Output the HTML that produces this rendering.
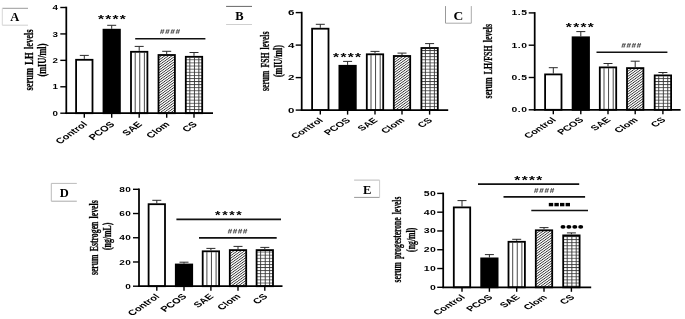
<!DOCTYPE html>
<html><head><meta charset="utf-8"><style>
html,body{margin:0;padding:0;background:#fff;}
svg{display:block;filter:grayscale(100%);}
</style></head><body>
<svg width="685" height="319" viewBox="0 0 685 319">
<rect width="685" height="319" fill="#fff"/>

<defs>
<pattern id="diag" patternUnits="userSpaceOnUse" width="1.8" height="10" patternTransform="scale(1.4,1) rotate(45)">
  <rect x="0" y="0" width="0.68" height="10" fill="#303030"/>
</pattern>
<pattern id="hgrid" patternUnits="userSpaceOnUse" width="10" height="3.1" y="0.5">
  <rect x="0" y="0" width="10" height="0.85" fill="#444"/>
</pattern>
</defs>

<line x1="84.30" y1="55.40" x2="84.30" y2="58.90" stroke="#2a2a2a" stroke-width="1.0"/>
<line x1="79.80" y1="55.40" x2="88.80" y2="55.40" stroke="#2a2a2a" stroke-width="1.0"/>
<rect x="76.10" y="59.80" width="16.40" height="53.40" fill="#fff" stroke="none"/>
<rect x="76.10" y="59.80" width="16.40" height="53.40" fill="none" stroke="#000" stroke-width="1.8"/>
<line x1="84.30" y1="113.20" x2="84.30" y2="117.70" stroke="#000" stroke-width="1.4"/>
<text transform="translate(87.90,124.70) scale(1.4,1) rotate(-45)" font-family='"Liberation Sans", sans-serif' font-size="7.9" font-weight="bold" font-style="normal" text-anchor="end" fill="#000" >Control</text>
<line x1="111.70" y1="25.30" x2="111.70" y2="28.80" stroke="#2a2a2a" stroke-width="1.0"/>
<line x1="107.20" y1="25.30" x2="116.20" y2="25.30" stroke="#2a2a2a" stroke-width="1.0"/>
<rect x="103.50" y="29.70" width="16.40" height="83.50" fill="#000" stroke="none"/>
<rect x="103.50" y="29.70" width="16.40" height="83.50" fill="none" stroke="#000" stroke-width="1.8"/>
<line x1="111.70" y1="113.20" x2="111.70" y2="117.70" stroke="#000" stroke-width="1.4"/>
<text transform="translate(115.30,124.70) scale(1.4,1) rotate(-45)" font-family='"Liberation Sans", sans-serif' font-size="7.9" font-weight="bold" font-style="normal" text-anchor="end" fill="#000" >PCOS</text>
<line x1="139.20" y1="46.40" x2="139.20" y2="50.90" stroke="#2a2a2a" stroke-width="1.0"/>
<line x1="134.70" y1="46.40" x2="143.70" y2="46.40" stroke="#2a2a2a" stroke-width="1.0"/>
<rect x="130.10" y="50.90" width="18.20" height="62.30" fill="#fff"/>
<rect x="131.00" y="51.80" width="16.40" height="61.40" fill="#fff" stroke="none"/>
<line x1="135.20" y1="52.70" x2="135.20" y2="113.20" stroke="#333" stroke-width="0.9"/>
<line x1="139.75" y1="52.70" x2="139.75" y2="113.20" stroke="#333" stroke-width="0.9"/>
<line x1="144.39" y1="52.70" x2="144.39" y2="113.20" stroke="#333" stroke-width="0.9"/>
<rect x="131.00" y="51.80" width="16.40" height="61.40" fill="none" stroke="#000" stroke-width="1.8"/>
<line x1="139.20" y1="113.20" x2="139.20" y2="117.70" stroke="#000" stroke-width="1.4"/>
<text transform="translate(142.80,124.70) scale(1.4,1) rotate(-45)" font-family='"Liberation Sans", sans-serif' font-size="7.9" font-weight="bold" font-style="normal" text-anchor="end" fill="#000" >SAE</text>
<line x1="166.70" y1="51.30" x2="166.70" y2="54.10" stroke="#2a2a2a" stroke-width="1.0"/>
<line x1="162.20" y1="51.30" x2="171.20" y2="51.30" stroke="#2a2a2a" stroke-width="1.0"/>
<rect x="157.60" y="54.10" width="18.20" height="59.10" fill="#fff"/>
<rect x="158.50" y="55.00" width="16.40" height="58.20" fill="url(#diag)" stroke="none"/>
<rect x="158.50" y="55.00" width="16.40" height="58.20" fill="none" stroke="#000" stroke-width="1.8"/>
<line x1="166.70" y1="113.20" x2="166.70" y2="117.70" stroke="#000" stroke-width="1.4"/>
<text transform="translate(170.30,124.70) scale(1.4,1) rotate(-45)" font-family='"Liberation Sans", sans-serif' font-size="7.9" font-weight="bold" font-style="normal" text-anchor="end" fill="#000" >Clom</text>
<line x1="194.00" y1="52.50" x2="194.00" y2="55.90" stroke="#2a2a2a" stroke-width="1.0"/>
<line x1="189.50" y1="52.50" x2="198.50" y2="52.50" stroke="#2a2a2a" stroke-width="1.0"/>
<rect x="184.90" y="55.90" width="18.20" height="57.30" fill="#fff"/>
<rect x="185.80" y="56.80" width="16.40" height="56.40" fill="url(#hgrid)" stroke="none"/>
<line x1="189.81" y1="57.70" x2="189.81" y2="113.20" stroke="#333" stroke-width="0.9"/>
<line x1="194.46" y1="57.70" x2="194.46" y2="113.20" stroke="#333" stroke-width="0.9"/>
<line x1="198.82" y1="57.70" x2="198.82" y2="113.20" stroke="#333" stroke-width="0.9"/>
<rect x="185.80" y="56.80" width="16.40" height="56.40" fill="none" stroke="#000" stroke-width="1.8"/>
<line x1="194.00" y1="113.20" x2="194.00" y2="117.70" stroke="#000" stroke-width="1.4"/>
<text transform="translate(197.60,124.70) scale(1.4,1) rotate(-45)" font-family='"Liberation Sans", sans-serif' font-size="7.9" font-weight="bold" font-style="normal" text-anchor="end" fill="#000" >CS</text>
<line x1="66.30" y1="6.70" x2="66.30" y2="114.05" stroke="#000" stroke-width="1.75"/>
<line x1="65.45" y1="113.20" x2="213.00" y2="113.20" stroke="#000" stroke-width="1.7"/>
<line x1="60.30" y1="113.20" x2="66.30" y2="113.20" stroke="#000" stroke-width="1.4"/>
<text transform="translate(58.00,115.80) scale(1.4,1)" font-family='"Liberation Sans", sans-serif' font-size="7.0" font-weight="bold" font-style="normal" text-anchor="end" fill="#000" letter-spacing="0">0</text>
<line x1="60.30" y1="86.78" x2="66.30" y2="86.78" stroke="#000" stroke-width="1.4"/>
<text transform="translate(58.00,89.38) scale(1.4,1)" font-family='"Liberation Sans", sans-serif' font-size="7.0" font-weight="bold" font-style="normal" text-anchor="end" fill="#000" letter-spacing="0">1</text>
<line x1="60.30" y1="60.35" x2="66.30" y2="60.35" stroke="#000" stroke-width="1.4"/>
<text transform="translate(58.00,62.95) scale(1.4,1)" font-family='"Liberation Sans", sans-serif' font-size="7.0" font-weight="bold" font-style="normal" text-anchor="end" fill="#000" letter-spacing="0">2</text>
<line x1="60.30" y1="33.92" x2="66.30" y2="33.92" stroke="#000" stroke-width="1.4"/>
<text transform="translate(58.00,36.52) scale(1.4,1)" font-family='"Liberation Sans", sans-serif' font-size="7.0" font-weight="bold" font-style="normal" text-anchor="end" fill="#000" letter-spacing="0">3</text>
<line x1="60.30" y1="7.50" x2="66.30" y2="7.50" stroke="#000" stroke-width="1.4"/>
<text transform="translate(58.00,10.10) scale(1.4,1)" font-family='"Liberation Sans", sans-serif' font-size="7.0" font-weight="bold" font-style="normal" text-anchor="end" fill="#000" letter-spacing="0">4</text>
<line x1="320.30" y1="24.30" x2="320.30" y2="27.80" stroke="#2a2a2a" stroke-width="1.0"/>
<line x1="315.80" y1="24.30" x2="324.80" y2="24.30" stroke="#2a2a2a" stroke-width="1.0"/>
<rect x="312.10" y="28.70" width="16.40" height="81.40" fill="#fff" stroke="none"/>
<rect x="312.10" y="28.70" width="16.40" height="81.40" fill="none" stroke="#000" stroke-width="1.8"/>
<line x1="320.30" y1="110.10" x2="320.30" y2="114.60" stroke="#000" stroke-width="1.4"/>
<text transform="translate(323.70,120.70) scale(1.53,1) rotate(-45)" font-family='"Liberation Sans", sans-serif' font-size="7.33" font-weight="bold" font-style="normal" text-anchor="end" fill="#000" >Control</text>
<line x1="347.60" y1="61.40" x2="347.60" y2="64.90" stroke="#2a2a2a" stroke-width="1.0"/>
<line x1="343.10" y1="61.40" x2="352.10" y2="61.40" stroke="#2a2a2a" stroke-width="1.0"/>
<rect x="339.40" y="65.80" width="16.40" height="44.30" fill="#000" stroke="none"/>
<rect x="339.40" y="65.80" width="16.40" height="44.30" fill="none" stroke="#000" stroke-width="1.8"/>
<line x1="347.60" y1="110.10" x2="347.60" y2="114.60" stroke="#000" stroke-width="1.4"/>
<text transform="translate(351.00,120.70) scale(1.53,1) rotate(-45)" font-family='"Liberation Sans", sans-serif' font-size="7.33" font-weight="bold" font-style="normal" text-anchor="end" fill="#000" >PCOS</text>
<line x1="375.00" y1="51.40" x2="375.00" y2="53.40" stroke="#2a2a2a" stroke-width="1.0"/>
<line x1="370.50" y1="51.40" x2="379.50" y2="51.40" stroke="#2a2a2a" stroke-width="1.0"/>
<rect x="365.90" y="53.40" width="18.20" height="56.70" fill="#fff"/>
<rect x="366.80" y="54.30" width="16.40" height="55.80" fill="#fff" stroke="none"/>
<line x1="371.00" y1="55.20" x2="371.00" y2="110.10" stroke="#333" stroke-width="0.9"/>
<line x1="375.55" y1="55.20" x2="375.55" y2="110.10" stroke="#333" stroke-width="0.9"/>
<line x1="380.19" y1="55.20" x2="380.19" y2="110.10" stroke="#333" stroke-width="0.9"/>
<rect x="366.80" y="54.30" width="16.40" height="55.80" fill="none" stroke="#000" stroke-width="1.8"/>
<line x1="375.00" y1="110.10" x2="375.00" y2="114.60" stroke="#000" stroke-width="1.4"/>
<text transform="translate(378.40,120.70) scale(1.53,1) rotate(-45)" font-family='"Liberation Sans", sans-serif' font-size="7.33" font-weight="bold" font-style="normal" text-anchor="end" fill="#000" >SAE</text>
<line x1="402.00" y1="53.10" x2="402.00" y2="55.10" stroke="#2a2a2a" stroke-width="1.0"/>
<line x1="397.50" y1="53.10" x2="406.50" y2="53.10" stroke="#2a2a2a" stroke-width="1.0"/>
<rect x="392.90" y="55.10" width="18.20" height="55.00" fill="#fff"/>
<rect x="393.80" y="56.00" width="16.40" height="54.10" fill="url(#diag)" stroke="none"/>
<rect x="393.80" y="56.00" width="16.40" height="54.10" fill="none" stroke="#000" stroke-width="1.8"/>
<line x1="402.00" y1="110.10" x2="402.00" y2="114.60" stroke="#000" stroke-width="1.4"/>
<text transform="translate(405.40,120.70) scale(1.53,1) rotate(-45)" font-family='"Liberation Sans", sans-serif' font-size="7.33" font-weight="bold" font-style="normal" text-anchor="end" fill="#000" >Clom</text>
<line x1="429.60" y1="43.60" x2="429.60" y2="47.10" stroke="#2a2a2a" stroke-width="1.0"/>
<line x1="425.10" y1="43.60" x2="434.10" y2="43.60" stroke="#2a2a2a" stroke-width="1.0"/>
<rect x="420.50" y="47.10" width="18.20" height="63.00" fill="#fff"/>
<rect x="421.40" y="48.00" width="16.40" height="62.10" fill="url(#hgrid)" stroke="none"/>
<line x1="425.41" y1="48.90" x2="425.41" y2="110.10" stroke="#333" stroke-width="0.9"/>
<line x1="430.06" y1="48.90" x2="430.06" y2="110.10" stroke="#333" stroke-width="0.9"/>
<line x1="434.42" y1="48.90" x2="434.42" y2="110.10" stroke="#333" stroke-width="0.9"/>
<rect x="421.40" y="48.00" width="16.40" height="62.10" fill="none" stroke="#000" stroke-width="1.8"/>
<line x1="429.60" y1="110.10" x2="429.60" y2="114.60" stroke="#000" stroke-width="1.4"/>
<text transform="translate(433.00,120.70) scale(1.53,1) rotate(-45)" font-family='"Liberation Sans", sans-serif' font-size="7.33" font-weight="bold" font-style="normal" text-anchor="end" fill="#000" >CS</text>
<line x1="301.70" y1="11.80" x2="301.70" y2="110.95" stroke="#000" stroke-width="1.75"/>
<line x1="300.85" y1="110.10" x2="448.20" y2="110.10" stroke="#000" stroke-width="1.7"/>
<line x1="295.70" y1="110.10" x2="301.70" y2="110.10" stroke="#000" stroke-width="1.4"/>
<text transform="translate(294.80,112.70) scale(1.6,1)" font-family='"Liberation Sans", sans-serif' font-size="7.2" font-weight="bold" font-style="normal" text-anchor="end" fill="#000" letter-spacing="0.3">0</text>
<line x1="295.70" y1="77.60" x2="301.70" y2="77.60" stroke="#000" stroke-width="1.4"/>
<text transform="translate(294.80,80.20) scale(1.6,1)" font-family='"Liberation Sans", sans-serif' font-size="7.2" font-weight="bold" font-style="normal" text-anchor="end" fill="#000" letter-spacing="0.3">2</text>
<line x1="295.70" y1="45.10" x2="301.70" y2="45.10" stroke="#000" stroke-width="1.4"/>
<text transform="translate(294.80,47.70) scale(1.6,1)" font-family='"Liberation Sans", sans-serif' font-size="7.2" font-weight="bold" font-style="normal" text-anchor="end" fill="#000" letter-spacing="0.3">4</text>
<line x1="295.70" y1="12.60" x2="301.70" y2="12.60" stroke="#000" stroke-width="1.4"/>
<text transform="translate(294.80,15.20) scale(1.6,1)" font-family='"Liberation Sans", sans-serif' font-size="7.2" font-weight="bold" font-style="normal" text-anchor="end" fill="#000" letter-spacing="0.3">6</text>
<line x1="553.30" y1="67.70" x2="553.30" y2="73.50" stroke="#2a2a2a" stroke-width="1.0"/>
<line x1="548.80" y1="67.70" x2="557.80" y2="67.70" stroke="#2a2a2a" stroke-width="1.0"/>
<rect x="545.10" y="74.40" width="16.40" height="35.40" fill="#fff" stroke="none"/>
<rect x="545.10" y="74.40" width="16.40" height="35.40" fill="none" stroke="#000" stroke-width="1.8"/>
<line x1="553.30" y1="109.80" x2="553.30" y2="114.30" stroke="#000" stroke-width="1.4"/>
<text transform="translate(556.70,120.40) scale(1.53,1) rotate(-45)" font-family='"Liberation Sans", sans-serif' font-size="7.33" font-weight="bold" font-style="normal" text-anchor="end" fill="#000" >Control</text>
<line x1="580.80" y1="31.60" x2="580.80" y2="36.40" stroke="#2a2a2a" stroke-width="1.0"/>
<line x1="576.30" y1="31.60" x2="585.30" y2="31.60" stroke="#2a2a2a" stroke-width="1.0"/>
<rect x="572.60" y="37.30" width="16.40" height="72.50" fill="#000" stroke="none"/>
<rect x="572.60" y="37.30" width="16.40" height="72.50" fill="none" stroke="#000" stroke-width="1.8"/>
<line x1="580.80" y1="109.80" x2="580.80" y2="114.30" stroke="#000" stroke-width="1.4"/>
<text transform="translate(584.20,120.40) scale(1.53,1) rotate(-45)" font-family='"Liberation Sans", sans-serif' font-size="7.33" font-weight="bold" font-style="normal" text-anchor="end" fill="#000" >PCOS</text>
<line x1="608.00" y1="63.50" x2="608.00" y2="66.50" stroke="#2a2a2a" stroke-width="1.0"/>
<line x1="603.50" y1="63.50" x2="612.50" y2="63.50" stroke="#2a2a2a" stroke-width="1.0"/>
<rect x="598.90" y="66.50" width="18.20" height="43.30" fill="#fff"/>
<rect x="599.80" y="67.40" width="16.40" height="42.40" fill="#fff" stroke="none"/>
<line x1="604.00" y1="68.30" x2="604.00" y2="109.80" stroke="#333" stroke-width="0.9"/>
<line x1="608.55" y1="68.30" x2="608.55" y2="109.80" stroke="#333" stroke-width="0.9"/>
<line x1="613.19" y1="68.30" x2="613.19" y2="109.80" stroke="#333" stroke-width="0.9"/>
<rect x="599.80" y="67.40" width="16.40" height="42.40" fill="none" stroke="#000" stroke-width="1.8"/>
<line x1="608.00" y1="109.80" x2="608.00" y2="114.30" stroke="#000" stroke-width="1.4"/>
<text transform="translate(611.40,120.40) scale(1.53,1) rotate(-45)" font-family='"Liberation Sans", sans-serif' font-size="7.33" font-weight="bold" font-style="normal" text-anchor="end" fill="#000" >SAE</text>
<line x1="635.20" y1="61.20" x2="635.20" y2="67.20" stroke="#2a2a2a" stroke-width="1.0"/>
<line x1="630.70" y1="61.20" x2="639.70" y2="61.20" stroke="#2a2a2a" stroke-width="1.0"/>
<rect x="626.10" y="67.20" width="18.20" height="42.60" fill="#fff"/>
<rect x="627.00" y="68.10" width="16.40" height="41.70" fill="url(#diag)" stroke="none"/>
<rect x="627.00" y="68.10" width="16.40" height="41.70" fill="none" stroke="#000" stroke-width="1.8"/>
<line x1="635.20" y1="109.80" x2="635.20" y2="114.30" stroke="#000" stroke-width="1.4"/>
<text transform="translate(638.60,120.40) scale(1.53,1) rotate(-45)" font-family='"Liberation Sans", sans-serif' font-size="7.33" font-weight="bold" font-style="normal" text-anchor="end" fill="#000" >Clom</text>
<line x1="662.90" y1="72.50" x2="662.90" y2="74.50" stroke="#2a2a2a" stroke-width="1.0"/>
<line x1="658.40" y1="72.50" x2="667.40" y2="72.50" stroke="#2a2a2a" stroke-width="1.0"/>
<rect x="653.80" y="74.50" width="18.20" height="35.30" fill="#fff"/>
<rect x="654.70" y="75.40" width="16.40" height="34.40" fill="url(#hgrid)" stroke="none"/>
<line x1="658.71" y1="76.30" x2="658.71" y2="109.80" stroke="#333" stroke-width="0.9"/>
<line x1="663.35" y1="76.30" x2="663.35" y2="109.80" stroke="#333" stroke-width="0.9"/>
<line x1="667.72" y1="76.30" x2="667.72" y2="109.80" stroke="#333" stroke-width="0.9"/>
<rect x="654.70" y="75.40" width="16.40" height="34.40" fill="none" stroke="#000" stroke-width="1.8"/>
<line x1="662.90" y1="109.80" x2="662.90" y2="114.30" stroke="#000" stroke-width="1.4"/>
<text transform="translate(666.30,120.40) scale(1.53,1) rotate(-45)" font-family='"Liberation Sans", sans-serif' font-size="7.33" font-weight="bold" font-style="normal" text-anchor="end" fill="#000" >CS</text>
<line x1="534.70" y1="12.10" x2="534.70" y2="110.65" stroke="#000" stroke-width="1.75"/>
<line x1="533.85" y1="109.80" x2="680.60" y2="109.80" stroke="#000" stroke-width="1.7"/>
<line x1="528.70" y1="109.80" x2="534.70" y2="109.80" stroke="#000" stroke-width="1.4"/>
<text transform="translate(527.50,112.30) scale(1.4,1)" font-family='"Liberation Sans", sans-serif' font-size="7.4" font-weight="bold" font-style="normal" text-anchor="end" fill="#000" letter-spacing="0.35">0.0</text>
<line x1="528.70" y1="77.50" x2="534.70" y2="77.50" stroke="#000" stroke-width="1.4"/>
<text transform="translate(527.50,80.00) scale(1.4,1)" font-family='"Liberation Sans", sans-serif' font-size="7.4" font-weight="bold" font-style="normal" text-anchor="end" fill="#000" letter-spacing="0.35">0.5</text>
<line x1="528.70" y1="45.20" x2="534.70" y2="45.20" stroke="#000" stroke-width="1.4"/>
<text transform="translate(527.50,47.70) scale(1.4,1)" font-family='"Liberation Sans", sans-serif' font-size="7.4" font-weight="bold" font-style="normal" text-anchor="end" fill="#000" letter-spacing="0.35">1.0</text>
<line x1="528.70" y1="12.90" x2="534.70" y2="12.90" stroke="#000" stroke-width="1.4"/>
<text transform="translate(527.50,15.40) scale(1.4,1)" font-family='"Liberation Sans", sans-serif' font-size="7.4" font-weight="bold" font-style="normal" text-anchor="end" fill="#000" letter-spacing="0.35">1.5</text>
<line x1="156.80" y1="200.30" x2="156.80" y2="203.30" stroke="#2a2a2a" stroke-width="1.0"/>
<line x1="152.30" y1="200.30" x2="161.30" y2="200.30" stroke="#2a2a2a" stroke-width="1.0"/>
<rect x="148.60" y="204.20" width="16.40" height="82.00" fill="#fff" stroke="none"/>
<rect x="148.60" y="204.20" width="16.40" height="82.00" fill="none" stroke="#000" stroke-width="1.8"/>
<line x1="156.80" y1="286.20" x2="156.80" y2="290.70" stroke="#000" stroke-width="1.4"/>
<text transform="translate(160.10,297.00) scale(1.45,1) rotate(-45)" font-family='"Liberation Sans", sans-serif' font-size="7.65" font-weight="bold" font-style="normal" text-anchor="end" fill="#000" >Control</text>
<line x1="184.00" y1="262.20" x2="184.00" y2="263.60" stroke="#2a2a2a" stroke-width="1.0"/>
<line x1="179.50" y1="262.20" x2="188.50" y2="262.20" stroke="#2a2a2a" stroke-width="1.0"/>
<rect x="175.80" y="264.50" width="16.40" height="21.70" fill="#000" stroke="none"/>
<rect x="175.80" y="264.50" width="16.40" height="21.70" fill="none" stroke="#000" stroke-width="1.8"/>
<line x1="184.00" y1="286.20" x2="184.00" y2="290.70" stroke="#000" stroke-width="1.4"/>
<text transform="translate(187.30,297.00) scale(1.45,1) rotate(-45)" font-family='"Liberation Sans", sans-serif' font-size="7.65" font-weight="bold" font-style="normal" text-anchor="end" fill="#000" >PCOS</text>
<line x1="210.90" y1="248.40" x2="210.90" y2="250.40" stroke="#2a2a2a" stroke-width="1.0"/>
<line x1="206.40" y1="248.40" x2="215.40" y2="248.40" stroke="#2a2a2a" stroke-width="1.0"/>
<rect x="201.80" y="250.40" width="18.20" height="35.80" fill="#fff"/>
<rect x="202.70" y="251.30" width="16.40" height="34.90" fill="#fff" stroke="none"/>
<line x1="206.90" y1="252.20" x2="206.90" y2="286.20" stroke="#333" stroke-width="0.9"/>
<line x1="211.45" y1="252.20" x2="211.45" y2="286.20" stroke="#333" stroke-width="0.9"/>
<line x1="216.09" y1="252.20" x2="216.09" y2="286.20" stroke="#333" stroke-width="0.9"/>
<rect x="202.70" y="251.30" width="16.40" height="34.90" fill="none" stroke="#000" stroke-width="1.8"/>
<line x1="210.90" y1="286.20" x2="210.90" y2="290.70" stroke="#000" stroke-width="1.4"/>
<text transform="translate(214.20,297.00) scale(1.45,1) rotate(-45)" font-family='"Liberation Sans", sans-serif' font-size="7.65" font-weight="bold" font-style="normal" text-anchor="end" fill="#000" >SAE</text>
<line x1="238.00" y1="246.40" x2="238.00" y2="249.20" stroke="#2a2a2a" stroke-width="1.0"/>
<line x1="233.50" y1="246.40" x2="242.50" y2="246.40" stroke="#2a2a2a" stroke-width="1.0"/>
<rect x="228.90" y="249.20" width="18.20" height="37.00" fill="#fff"/>
<rect x="229.80" y="250.10" width="16.40" height="36.10" fill="url(#diag)" stroke="none"/>
<rect x="229.80" y="250.10" width="16.40" height="36.10" fill="none" stroke="#000" stroke-width="1.8"/>
<line x1="238.00" y1="286.20" x2="238.00" y2="290.70" stroke="#000" stroke-width="1.4"/>
<text transform="translate(241.30,297.00) scale(1.45,1) rotate(-45)" font-family='"Liberation Sans", sans-serif' font-size="7.65" font-weight="bold" font-style="normal" text-anchor="end" fill="#000" >Clom</text>
<line x1="264.80" y1="247.40" x2="264.80" y2="249.20" stroke="#2a2a2a" stroke-width="1.0"/>
<line x1="260.30" y1="247.40" x2="269.30" y2="247.40" stroke="#2a2a2a" stroke-width="1.0"/>
<rect x="255.70" y="249.20" width="18.20" height="37.00" fill="#fff"/>
<rect x="256.60" y="250.10" width="16.40" height="36.10" fill="url(#hgrid)" stroke="none"/>
<line x1="260.61" y1="251.00" x2="260.61" y2="286.20" stroke="#333" stroke-width="0.9"/>
<line x1="265.25" y1="251.00" x2="265.25" y2="286.20" stroke="#333" stroke-width="0.9"/>
<line x1="269.62" y1="251.00" x2="269.62" y2="286.20" stroke="#333" stroke-width="0.9"/>
<rect x="256.60" y="250.10" width="16.40" height="36.10" fill="none" stroke="#000" stroke-width="1.8"/>
<line x1="264.80" y1="286.20" x2="264.80" y2="290.70" stroke="#000" stroke-width="1.4"/>
<text transform="translate(268.10,297.00) scale(1.45,1) rotate(-45)" font-family='"Liberation Sans", sans-serif' font-size="7.65" font-weight="bold" font-style="normal" text-anchor="end" fill="#000" >CS</text>
<line x1="139.00" y1="188.50" x2="139.00" y2="287.05" stroke="#000" stroke-width="1.75"/>
<line x1="138.15" y1="286.20" x2="282.50" y2="286.20" stroke="#000" stroke-width="1.7"/>
<line x1="133.00" y1="286.20" x2="139.00" y2="286.20" stroke="#000" stroke-width="1.4"/>
<text transform="translate(131.50,288.80) scale(1.4,1)" font-family='"Liberation Sans", sans-serif' font-size="7.2" font-weight="bold" font-style="normal" text-anchor="end" fill="#000" letter-spacing="0.4">0</text>
<line x1="133.00" y1="261.98" x2="139.00" y2="261.98" stroke="#000" stroke-width="1.4"/>
<text transform="translate(131.50,264.58) scale(1.4,1)" font-family='"Liberation Sans", sans-serif' font-size="7.2" font-weight="bold" font-style="normal" text-anchor="end" fill="#000" letter-spacing="0.4">20</text>
<line x1="133.00" y1="237.75" x2="139.00" y2="237.75" stroke="#000" stroke-width="1.4"/>
<text transform="translate(131.50,240.35) scale(1.4,1)" font-family='"Liberation Sans", sans-serif' font-size="7.2" font-weight="bold" font-style="normal" text-anchor="end" fill="#000" letter-spacing="0.4">40</text>
<line x1="133.00" y1="213.53" x2="139.00" y2="213.53" stroke="#000" stroke-width="1.4"/>
<text transform="translate(131.50,216.12) scale(1.4,1)" font-family='"Liberation Sans", sans-serif' font-size="7.2" font-weight="bold" font-style="normal" text-anchor="end" fill="#000" letter-spacing="0.4">60</text>
<line x1="133.00" y1="189.30" x2="139.00" y2="189.30" stroke="#000" stroke-width="1.4"/>
<text transform="translate(131.50,191.90) scale(1.4,1)" font-family='"Liberation Sans", sans-serif' font-size="7.2" font-weight="bold" font-style="normal" text-anchor="end" fill="#000" letter-spacing="0.4">80</text>
<line x1="462.00" y1="200.60" x2="462.00" y2="206.50" stroke="#2a2a2a" stroke-width="1.0"/>
<line x1="457.50" y1="200.60" x2="466.50" y2="200.60" stroke="#2a2a2a" stroke-width="1.0"/>
<rect x="453.80" y="207.40" width="16.40" height="79.90" fill="#fff" stroke="none"/>
<rect x="453.80" y="207.40" width="16.40" height="79.90" fill="none" stroke="#000" stroke-width="1.8"/>
<line x1="462.00" y1="287.30" x2="462.00" y2="291.80" stroke="#000" stroke-width="1.4"/>
<text transform="translate(465.80,297.70) scale(1.585,1) rotate(-45)" font-family='"Liberation Sans", sans-serif' font-size="7.07" font-weight="bold" font-style="normal" text-anchor="end" fill="#000" >Control</text>
<line x1="489.40" y1="254.60" x2="489.40" y2="257.50" stroke="#2a2a2a" stroke-width="1.0"/>
<line x1="484.90" y1="254.60" x2="493.90" y2="254.60" stroke="#2a2a2a" stroke-width="1.0"/>
<rect x="481.20" y="258.40" width="16.40" height="28.90" fill="#000" stroke="none"/>
<rect x="481.20" y="258.40" width="16.40" height="28.90" fill="none" stroke="#000" stroke-width="1.8"/>
<line x1="489.40" y1="287.30" x2="489.40" y2="291.80" stroke="#000" stroke-width="1.4"/>
<text transform="translate(493.20,297.70) scale(1.585,1) rotate(-45)" font-family='"Liberation Sans", sans-serif' font-size="7.07" font-weight="bold" font-style="normal" text-anchor="end" fill="#000" >PCOS</text>
<line x1="516.70" y1="239.30" x2="516.70" y2="240.90" stroke="#2a2a2a" stroke-width="1.0"/>
<line x1="512.20" y1="239.30" x2="521.20" y2="239.30" stroke="#2a2a2a" stroke-width="1.0"/>
<rect x="507.60" y="240.90" width="18.20" height="46.40" fill="#fff"/>
<rect x="508.50" y="241.80" width="16.40" height="45.50" fill="#fff" stroke="none"/>
<line x1="512.70" y1="242.70" x2="512.70" y2="287.30" stroke="#333" stroke-width="0.9"/>
<line x1="517.25" y1="242.70" x2="517.25" y2="287.30" stroke="#333" stroke-width="0.9"/>
<line x1="521.89" y1="242.70" x2="521.89" y2="287.30" stroke="#333" stroke-width="0.9"/>
<rect x="508.50" y="241.80" width="16.40" height="45.50" fill="none" stroke="#000" stroke-width="1.8"/>
<line x1="516.70" y1="287.30" x2="516.70" y2="291.80" stroke="#000" stroke-width="1.4"/>
<text transform="translate(520.50,297.70) scale(1.585,1) rotate(-45)" font-family='"Liberation Sans", sans-serif' font-size="7.07" font-weight="bold" font-style="normal" text-anchor="end" fill="#000" >SAE</text>
<line x1="544.00" y1="227.60" x2="544.00" y2="229.40" stroke="#2a2a2a" stroke-width="1.0"/>
<line x1="539.50" y1="227.60" x2="548.50" y2="227.60" stroke="#2a2a2a" stroke-width="1.0"/>
<rect x="534.90" y="229.40" width="18.20" height="57.90" fill="#fff"/>
<rect x="535.80" y="230.30" width="16.40" height="57.00" fill="url(#diag)" stroke="none"/>
<rect x="535.80" y="230.30" width="16.40" height="57.00" fill="none" stroke="#000" stroke-width="1.8"/>
<line x1="544.00" y1="287.30" x2="544.00" y2="291.80" stroke="#000" stroke-width="1.4"/>
<text transform="translate(547.80,297.70) scale(1.585,1) rotate(-45)" font-family='"Liberation Sans", sans-serif' font-size="7.07" font-weight="bold" font-style="normal" text-anchor="end" fill="#000" >Clom</text>
<line x1="571.40" y1="232.90" x2="571.40" y2="234.50" stroke="#2a2a2a" stroke-width="1.0"/>
<line x1="566.90" y1="232.90" x2="575.90" y2="232.90" stroke="#2a2a2a" stroke-width="1.0"/>
<rect x="562.30" y="234.50" width="18.20" height="52.80" fill="#fff"/>
<rect x="563.20" y="235.40" width="16.40" height="51.90" fill="url(#hgrid)" stroke="none"/>
<line x1="567.21" y1="236.30" x2="567.21" y2="287.30" stroke="#333" stroke-width="0.9"/>
<line x1="571.85" y1="236.30" x2="571.85" y2="287.30" stroke="#333" stroke-width="0.9"/>
<line x1="576.22" y1="236.30" x2="576.22" y2="287.30" stroke="#333" stroke-width="0.9"/>
<rect x="563.20" y="235.40" width="16.40" height="51.90" fill="none" stroke="#000" stroke-width="1.8"/>
<line x1="571.40" y1="287.30" x2="571.40" y2="291.80" stroke="#000" stroke-width="1.4"/>
<text transform="translate(575.20,297.70) scale(1.585,1) rotate(-45)" font-family='"Liberation Sans", sans-serif' font-size="7.07" font-weight="bold" font-style="normal" text-anchor="end" fill="#000" >CS</text>
<line x1="443.20" y1="192.60" x2="443.20" y2="288.15" stroke="#000" stroke-width="1.75"/>
<line x1="442.35" y1="287.30" x2="591.20" y2="287.30" stroke="#000" stroke-width="1.7"/>
<line x1="437.20" y1="287.30" x2="443.20" y2="287.30" stroke="#000" stroke-width="1.4"/>
<text transform="translate(436.50,289.80) scale(1.4,1)" font-family='"Liberation Sans", sans-serif' font-size="7.5" font-weight="bold" font-style="normal" text-anchor="end" fill="#000" letter-spacing="0.4">0</text>
<line x1="437.20" y1="268.52" x2="443.20" y2="268.52" stroke="#000" stroke-width="1.4"/>
<text transform="translate(436.50,271.02) scale(1.4,1)" font-family='"Liberation Sans", sans-serif' font-size="7.5" font-weight="bold" font-style="normal" text-anchor="end" fill="#000" letter-spacing="0.4">10</text>
<line x1="437.20" y1="249.74" x2="443.20" y2="249.74" stroke="#000" stroke-width="1.4"/>
<text transform="translate(436.50,252.24) scale(1.4,1)" font-family='"Liberation Sans", sans-serif' font-size="7.5" font-weight="bold" font-style="normal" text-anchor="end" fill="#000" letter-spacing="0.4">20</text>
<line x1="437.20" y1="230.96" x2="443.20" y2="230.96" stroke="#000" stroke-width="1.4"/>
<text transform="translate(436.50,233.46) scale(1.4,1)" font-family='"Liberation Sans", sans-serif' font-size="7.5" font-weight="bold" font-style="normal" text-anchor="end" fill="#000" letter-spacing="0.4">30</text>
<line x1="437.20" y1="212.18" x2="443.20" y2="212.18" stroke="#000" stroke-width="1.4"/>
<text transform="translate(436.50,214.68) scale(1.4,1)" font-family='"Liberation Sans", sans-serif' font-size="7.5" font-weight="bold" font-style="normal" text-anchor="end" fill="#000" letter-spacing="0.4">40</text>
<line x1="437.20" y1="193.40" x2="443.20" y2="193.40" stroke="#000" stroke-width="1.4"/>
<text transform="translate(436.50,195.90) scale(1.4,1)" font-family='"Liberation Sans", sans-serif' font-size="7.5" font-weight="bold" font-style="normal" text-anchor="end" fill="#000" letter-spacing="0.4">50</text>
<text transform="translate(112.50,22.80) scale(1.4,1)" font-family='"Liberation Sans", sans-serif' font-size="11" font-weight="bold" font-style="normal" text-anchor="middle" fill="#000" letter-spacing="0.94">****</text>
<line x1="135.20" y1="38.70" x2="205.40" y2="38.70" stroke="#111" stroke-width="1.6"/>
<line x1="160.60" y1="33.80" x2="161.90" y2="29.20" stroke="#444" stroke-width="0.8"/>
<line x1="162.50" y1="33.80" x2="163.80" y2="29.20" stroke="#444" stroke-width="0.8"/>
<line x1="160.70" y1="30.72" x2="164.40" y2="30.72" stroke="#555" stroke-width="0.75"/>
<line x1="160.10" y1="32.28" x2="163.80" y2="32.28" stroke="#5a5a5a" stroke-width="0.7"/>
<line x1="165.80" y1="33.80" x2="167.10" y2="29.20" stroke="#444" stroke-width="0.8"/>
<line x1="167.70" y1="33.80" x2="169.00" y2="29.20" stroke="#444" stroke-width="0.8"/>
<line x1="165.90" y1="30.72" x2="169.60" y2="30.72" stroke="#555" stroke-width="0.75"/>
<line x1="165.30" y1="32.28" x2="169.00" y2="32.28" stroke="#5a5a5a" stroke-width="0.7"/>
<line x1="171.00" y1="33.80" x2="172.30" y2="29.20" stroke="#444" stroke-width="0.8"/>
<line x1="172.90" y1="33.80" x2="174.20" y2="29.20" stroke="#444" stroke-width="0.8"/>
<line x1="171.10" y1="30.72" x2="174.80" y2="30.72" stroke="#555" stroke-width="0.75"/>
<line x1="170.50" y1="32.28" x2="174.20" y2="32.28" stroke="#5a5a5a" stroke-width="0.7"/>
<line x1="176.20" y1="33.80" x2="177.50" y2="29.20" stroke="#444" stroke-width="0.8"/>
<line x1="178.10" y1="33.80" x2="179.40" y2="29.20" stroke="#444" stroke-width="0.8"/>
<line x1="176.30" y1="30.72" x2="180.00" y2="30.72" stroke="#555" stroke-width="0.75"/>
<line x1="175.70" y1="32.28" x2="179.40" y2="32.28" stroke="#5a5a5a" stroke-width="0.7"/>
<text transform="translate(347.70,60.90) scale(1.4,1)" font-family='"Liberation Sans", sans-serif' font-size="11" font-weight="bold" font-style="normal" text-anchor="middle" fill="#000" letter-spacing="0.94">****</text>
<text transform="translate(580.45,31.30) scale(1.4,1)" font-family='"Liberation Sans", sans-serif' font-size="11" font-weight="bold" font-style="normal" text-anchor="middle" fill="#000" letter-spacing="0.94">****</text>
<line x1="596.50" y1="52.20" x2="667.40" y2="52.20" stroke="#111" stroke-width="1.6"/>
<line x1="622.00" y1="47.70" x2="623.30" y2="43.00" stroke="#444" stroke-width="0.8"/>
<line x1="623.90" y1="47.70" x2="625.20" y2="43.00" stroke="#444" stroke-width="0.8"/>
<line x1="622.10" y1="44.55" x2="625.80" y2="44.55" stroke="#555" stroke-width="0.75"/>
<line x1="621.50" y1="46.15" x2="625.20" y2="46.15" stroke="#5a5a5a" stroke-width="0.7"/>
<line x1="627.10" y1="47.70" x2="628.40" y2="43.00" stroke="#444" stroke-width="0.8"/>
<line x1="629.00" y1="47.70" x2="630.30" y2="43.00" stroke="#444" stroke-width="0.8"/>
<line x1="627.20" y1="44.55" x2="630.90" y2="44.55" stroke="#555" stroke-width="0.75"/>
<line x1="626.60" y1="46.15" x2="630.30" y2="46.15" stroke="#5a5a5a" stroke-width="0.7"/>
<line x1="632.20" y1="47.70" x2="633.50" y2="43.00" stroke="#444" stroke-width="0.8"/>
<line x1="634.10" y1="47.70" x2="635.40" y2="43.00" stroke="#444" stroke-width="0.8"/>
<line x1="632.30" y1="44.55" x2="636.00" y2="44.55" stroke="#555" stroke-width="0.75"/>
<line x1="631.70" y1="46.15" x2="635.40" y2="46.15" stroke="#5a5a5a" stroke-width="0.7"/>
<line x1="637.30" y1="47.70" x2="638.60" y2="43.00" stroke="#444" stroke-width="0.8"/>
<line x1="639.20" y1="47.70" x2="640.50" y2="43.00" stroke="#444" stroke-width="0.8"/>
<line x1="637.40" y1="44.55" x2="641.10" y2="44.55" stroke="#555" stroke-width="0.75"/>
<line x1="636.80" y1="46.15" x2="640.50" y2="46.15" stroke="#5a5a5a" stroke-width="0.7"/>
<text transform="translate(229.23,219.39) scale(1.4,1)" font-family='"Liberation Sans", sans-serif' font-size="10" font-weight="bold" font-style="normal" text-anchor="middle" fill="#000" letter-spacing="1.18">****</text>
<line x1="176.40" y1="219.40" x2="281.00" y2="219.40" stroke="#111" stroke-width="1.6"/>
<line x1="228.30" y1="233.50" x2="229.60" y2="228.90" stroke="#444" stroke-width="0.8"/>
<line x1="230.20" y1="233.50" x2="231.50" y2="228.90" stroke="#444" stroke-width="0.8"/>
<line x1="228.40" y1="230.42" x2="232.10" y2="230.42" stroke="#555" stroke-width="0.75"/>
<line x1="227.80" y1="231.98" x2="231.50" y2="231.98" stroke="#5a5a5a" stroke-width="0.7"/>
<line x1="233.37" y1="233.50" x2="234.67" y2="228.90" stroke="#444" stroke-width="0.8"/>
<line x1="235.27" y1="233.50" x2="236.57" y2="228.90" stroke="#444" stroke-width="0.8"/>
<line x1="233.47" y1="230.42" x2="237.17" y2="230.42" stroke="#555" stroke-width="0.75"/>
<line x1="232.87" y1="231.98" x2="236.57" y2="231.98" stroke="#5a5a5a" stroke-width="0.7"/>
<line x1="238.43" y1="233.50" x2="239.73" y2="228.90" stroke="#444" stroke-width="0.8"/>
<line x1="240.33" y1="233.50" x2="241.63" y2="228.90" stroke="#444" stroke-width="0.8"/>
<line x1="238.53" y1="230.42" x2="242.23" y2="230.42" stroke="#555" stroke-width="0.75"/>
<line x1="237.93" y1="231.98" x2="241.63" y2="231.98" stroke="#5a5a5a" stroke-width="0.7"/>
<line x1="243.50" y1="233.50" x2="244.80" y2="228.90" stroke="#444" stroke-width="0.8"/>
<line x1="245.40" y1="233.50" x2="246.70" y2="228.90" stroke="#444" stroke-width="0.8"/>
<line x1="243.60" y1="230.42" x2="247.30" y2="230.42" stroke="#555" stroke-width="0.75"/>
<line x1="243.00" y1="231.98" x2="246.70" y2="231.98" stroke="#5a5a5a" stroke-width="0.7"/>
<line x1="199.00" y1="237.90" x2="276.70" y2="237.90" stroke="#111" stroke-width="1.6"/>
<text transform="translate(528.95,184.30) scale(1.4,1)" font-family='"Liberation Sans", sans-serif' font-size="11" font-weight="bold" font-style="normal" text-anchor="middle" fill="#000" letter-spacing="0.94">****</text>
<line x1="478.00" y1="184.10" x2="579.20" y2="184.10" stroke="#111" stroke-width="1.6"/>
<line x1="534.60" y1="192.80" x2="535.90" y2="188.10" stroke="#444" stroke-width="0.8"/>
<line x1="536.50" y1="192.80" x2="537.80" y2="188.10" stroke="#444" stroke-width="0.8"/>
<line x1="534.70" y1="189.65" x2="538.40" y2="189.65" stroke="#555" stroke-width="0.75"/>
<line x1="534.10" y1="191.25" x2="537.80" y2="191.25" stroke="#5a5a5a" stroke-width="0.7"/>
<line x1="539.87" y1="192.80" x2="541.17" y2="188.10" stroke="#444" stroke-width="0.8"/>
<line x1="541.77" y1="192.80" x2="543.07" y2="188.10" stroke="#444" stroke-width="0.8"/>
<line x1="539.97" y1="189.65" x2="543.67" y2="189.65" stroke="#555" stroke-width="0.75"/>
<line x1="539.37" y1="191.25" x2="543.07" y2="191.25" stroke="#5a5a5a" stroke-width="0.7"/>
<line x1="545.13" y1="192.80" x2="546.43" y2="188.10" stroke="#444" stroke-width="0.8"/>
<line x1="547.03" y1="192.80" x2="548.33" y2="188.10" stroke="#444" stroke-width="0.8"/>
<line x1="545.23" y1="189.65" x2="548.93" y2="189.65" stroke="#555" stroke-width="0.75"/>
<line x1="544.63" y1="191.25" x2="548.33" y2="191.25" stroke="#5a5a5a" stroke-width="0.7"/>
<line x1="550.40" y1="192.80" x2="551.70" y2="188.10" stroke="#444" stroke-width="0.8"/>
<line x1="552.30" y1="192.80" x2="553.60" y2="188.10" stroke="#444" stroke-width="0.8"/>
<line x1="550.50" y1="189.65" x2="554.20" y2="189.65" stroke="#555" stroke-width="0.75"/>
<line x1="549.90" y1="191.25" x2="553.60" y2="191.25" stroke="#5a5a5a" stroke-width="0.7"/>
<line x1="503.50" y1="196.90" x2="585.10" y2="196.90" stroke="#111" stroke-width="1.6"/>
<rect x="548.80" y="202.9" width="4.4" height="3.4" fill="#000"/>
<rect x="554.40" y="202.9" width="4.4" height="3.4" fill="#000"/>
<rect x="560.00" y="202.9" width="4.4" height="3.4" fill="#000"/>
<rect x="565.60" y="202.9" width="4.4" height="3.4" fill="#000"/>
<line x1="531.30" y1="210.50" x2="588.00" y2="210.50" stroke="#111" stroke-width="1.6"/>
<ellipse cx="563.00" cy="226.9" rx="2.5" ry="1.8" fill="#000"/>
<ellipse cx="568.90" cy="226.9" rx="2.5" ry="1.8" fill="#000"/>
<ellipse cx="574.80" cy="226.9" rx="2.5" ry="1.8" fill="#000"/>
<ellipse cx="580.70" cy="226.9" rx="2.5" ry="1.8" fill="#000"/>
<text transform="translate(32.90,90.50) scale(1.35,1) rotate(-90)" font-family='"Liberation Serif", serif' font-size="8.6" font-weight="bold" stroke="#000" stroke-width="0.22" word-spacing="1.4" textLength="61.00" lengthAdjust="spacingAndGlyphs">serum LH levels</text>
<text transform="translate(45.80,76.60) scale(1.35,1) rotate(-90)" font-family='"Liberation Serif", serif' font-size="8.6" font-weight="bold" stroke="#000" stroke-width="0.22" word-spacing="1.4" textLength="33.00" lengthAdjust="spacingAndGlyphs">(mIU/ml)</text>
<text transform="translate(269.00,90.90) scale(1.35,1) rotate(-90)" font-family='"Liberation Serif", serif' font-size="8.6" font-weight="bold" stroke="#000" stroke-width="0.22" word-spacing="1.4" textLength="59.30" lengthAdjust="spacingAndGlyphs">serum FSH levels</text>
<text transform="translate(281.90,77.10) scale(1.35,1) rotate(-90)" font-family='"Liberation Serif", serif' font-size="8.6" font-weight="bold" stroke="#000" stroke-width="0.22" word-spacing="1.4" textLength="31.90" lengthAdjust="spacingAndGlyphs">(mIU/ml)</text>
<text transform="translate(491.60,98.40) scale(1.35,1) rotate(-90)" font-family='"Liberation Serif", serif' font-size="8.6" font-weight="bold" stroke="#000" stroke-width="0.22" word-spacing="1.4" textLength="74.50" lengthAdjust="spacingAndGlyphs">serum LH/FSH levels</text>
<text transform="translate(98.00,275.10) scale(1.35,1) rotate(-90)" font-family='"Liberation Serif", serif' font-size="8.6" font-weight="bold" stroke="#000" stroke-width="0.22" word-spacing="1.4" textLength="74.80" lengthAdjust="spacingAndGlyphs">serum Estrogen levels</text>
<text transform="translate(110.80,250.10) scale(1.4,1) rotate(-90)" font-family='"Liberation Serif", serif' font-size="8.6" font-weight="bold" stroke="#000" stroke-width="0.22" word-spacing="1.4" textLength="27.60" lengthAdjust="spacingAndGlyphs">(ng/mL)</text>
<text transform="translate(401.00,282.40) scale(1.35,1) rotate(-90)" font-family='"Liberation Serif", serif' font-size="8.6" font-weight="bold" stroke="#000" stroke-width="0.22" word-spacing="1.4" textLength="85.80" lengthAdjust="spacingAndGlyphs">serum progesterone levels</text>
<text transform="translate(415.30,251.90) scale(1.45,1) rotate(-90)" font-family='"Liberation Serif", serif' font-size="8.8" font-weight="bold" stroke="#000" stroke-width="0.22" word-spacing="1.4" textLength="24.20" lengthAdjust="spacingAndGlyphs">(ng/ml)</text>
<line x1="2.30" y1="8.30" x2="28.00" y2="8.30" stroke="#9a9a9a" stroke-width="1.0"/>
<line x1="2.30" y1="25.20" x2="28.00" y2="25.20" stroke="#cfcfcf" stroke-width="1.0"/>
<line x1="2.30" y1="8.30" x2="2.30" y2="25.20" stroke="#d8d8d8" stroke-width="1.0"/>
<text x="10.20" y="20.90" font-family='"Liberation Serif", serif' font-size="12.5" font-weight="bold">A</text>
<line x1="226.10" y1="6.40" x2="252.00" y2="6.40" stroke="#666" stroke-width="1.0"/>
<line x1="226.10" y1="24.50" x2="252.00" y2="24.50" stroke="#cfcfcf" stroke-width="1.0"/>
<text x="235.30" y="20.00" font-family='"Liberation Serif", serif' font-size="12.5" font-weight="bold">B</text>
<line x1="445.50" y1="6.10" x2="445.50" y2="23.20" stroke="#999" stroke-width="1.0"/>
<line x1="471.30" y1="6.10" x2="471.30" y2="23.20" stroke="#aaa" stroke-width="1.0"/>
<line x1="445.50" y1="23.20" x2="471.30" y2="23.20" stroke="#aaa" stroke-width="1.0"/>
<text x="453.60" y="19.70" font-family='"Liberation Serif", serif' font-size="13.5" font-weight="bold">C</text>
<line x1="51.30" y1="183.40" x2="76.80" y2="183.40" stroke="#bbb" stroke-width="1.0"/>
<line x1="51.30" y1="201.20" x2="76.80" y2="201.20" stroke="#aaa" stroke-width="1.0"/>
<line x1="51.30" y1="183.40" x2="51.30" y2="201.20" stroke="#bbb" stroke-width="1.0"/>
<text x="59.80" y="196.90" font-family='"Liberation Serif", serif' font-size="12.5" font-weight="bold">D</text>
<line x1="354.10" y1="180.10" x2="379.60" y2="180.10" stroke="#bbb" stroke-width="1.0"/>
<line x1="354.10" y1="197.40" x2="379.60" y2="197.40" stroke="#999" stroke-width="1.0"/>
<line x1="379.60" y1="180.10" x2="379.60" y2="197.40" stroke="#ccc" stroke-width="1.0"/>
<text x="363.00" y="193.60" font-family='"Liberation Serif", serif' font-size="12.5" font-weight="bold">E</text>
</svg>
</body></html>
